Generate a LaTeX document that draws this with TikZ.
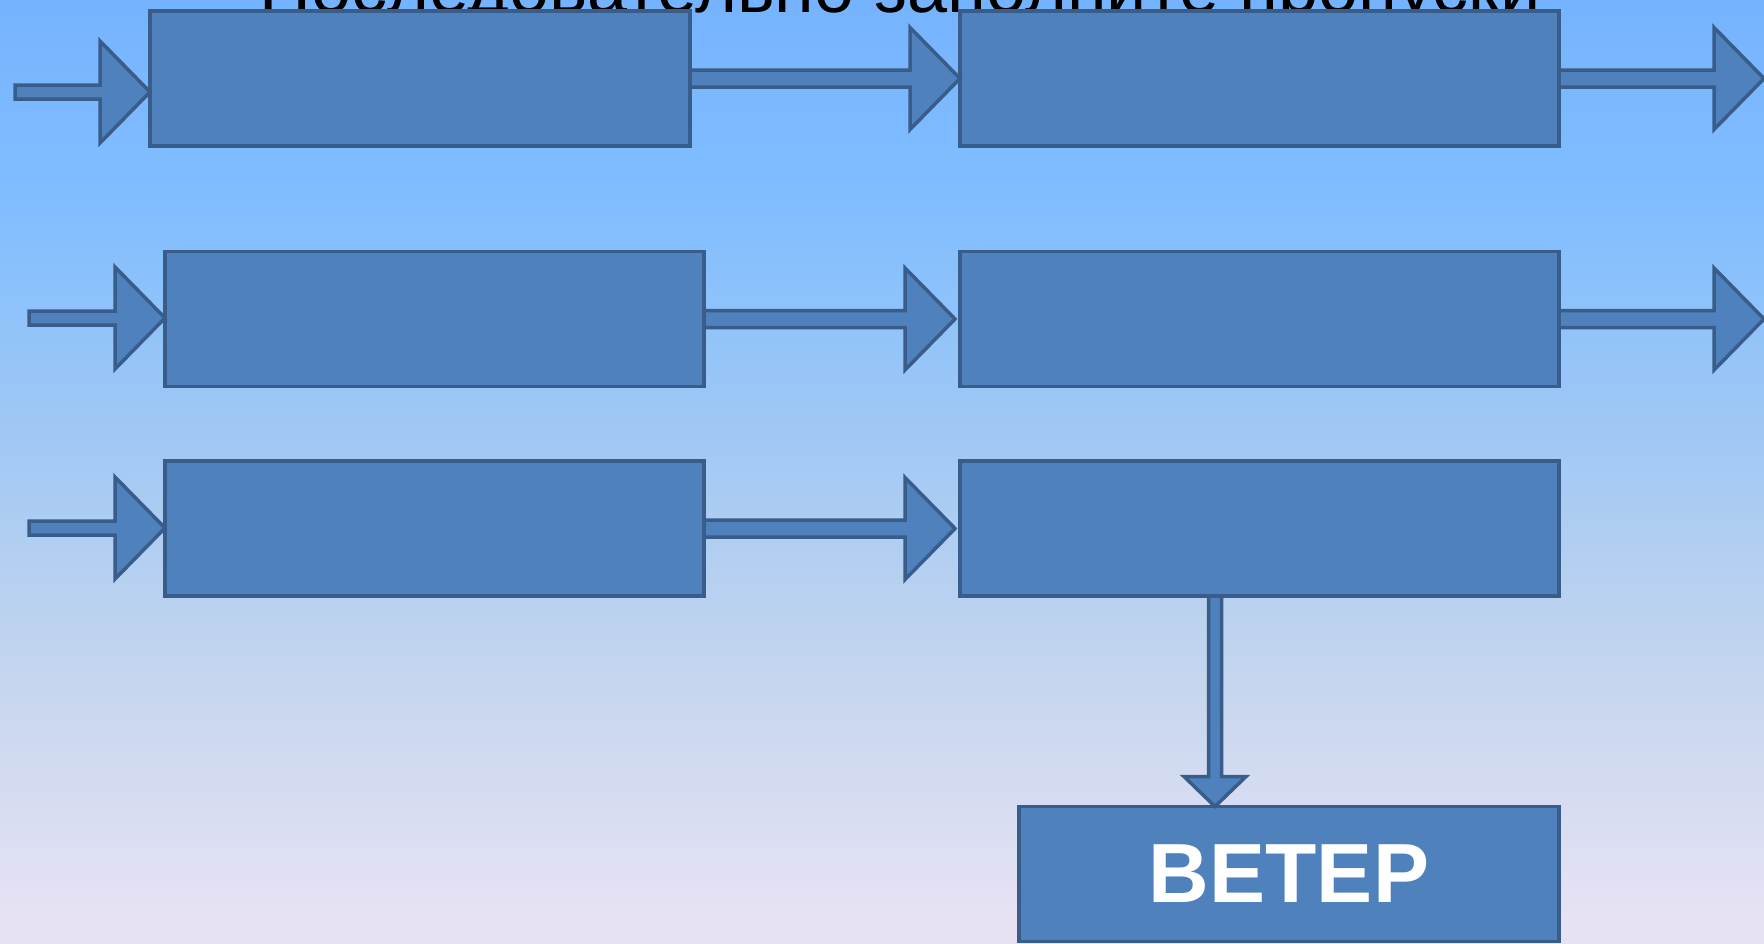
\documentclass[tikz,border=0pt]{standalone}
\usepackage{fontspec}
\setmainfont{Liberation Sans}
\usetikzlibrary{calc}
\definecolor{boxfill}{HTML}{4F81BD}
\definecolor{boxline}{HTML}{385D8A}
\definecolor{bga}{HTML}{E6E2F4}
\definecolor{bgb}{HTML}{C3D5EE}
\definecolor{bgc}{HTML}{A0C8F4}
\definecolor{bgd}{HTML}{80BDFF}
\definecolor{bge}{HTML}{76B3FE}
\pgfdeclareverticalshading{bgshade}{100bp}{color(0bp)=(bga); color(26.5bp)=(bga);
  color(39.75bp)=(bgb); color(52bp)=(bgc); color(64.5bp)=(bgd); color(75bp)=(bge); color(100bp)=(bge)}

% flat block arrow, left to right: start, tip, half shaft
\newcommand{\harrow}[3]{%
  \draw[arr] let \p1 = (#1), \p2 = (#2) in
    (\x1, \y1+#3) -- (\x2-50, \y1+#3) -- (\x2-50, \y1+51) -- (\x2, \y1)
    -- (\x2-50, \y1-51) -- (\x2-50, \y1-#3) -- (\x1, \y1-#3) -- cycle;}
% flat block arrow, top to bottom
\newcommand{\varrow}[3]{%
  \draw[arr] let \p1 = (#1), \p2 = (#2) in
    (\x1-#3, \y1) -- (\x1-#3, \y2+30) -- (\x1-31, \y2+30) -- (\x1, \y2)
    -- (\x1+31, \y2+30) -- (\x1+#3, \y2+30) -- (\x1+#3, \y1) -- cycle;}

\begin{document}
\begin{tikzpicture}[x=1pt, y=-1pt,
    box/.style = {draw=boxline, fill=boxfill, line width=3.5pt, inner sep=0pt, outer sep=0pt, minimum height=135pt},
    arr/.style = {draw=boxline, fill=boxfill, line width=3.5pt, line join=miter}]
        \shade[shading=bgshade] (0, 0) rectangle (1764, 943);
        \useasboundingbox (0, 0) rectangle (1764, 943);
        \node[anchor=base, font=\fontsize{72}{80}\selectfont] at (900, 12.5) (title) {Последовательно заполните пропуски};
        % boxes
        \node[box, minimum width=540pt] at (420, 78.5) (a1) {};
        \node[box, minimum width=599pt] at (1259.5, 78.5) (b1) {};
        \node[box, minimum width=539pt] at (434.5, 319) (a2) {};
        \node[box, minimum width=599pt] at (1259.5, 319) (b2) {};
        \node[box, minimum width=539pt] at (434.5, 528.5) (a3) {};
        \node[box, minimum width=599pt] at (1259.5, 528.5) (b3) {};
        \node[box, minimum width=540pt, text=white, font=\bfseries\fontsize{84}{90}\selectfont] at (1289, 874) (w) {ВЕТЕР};
        % free ends
        \coordinate (in1) at (15, 92);
        \coordinate (in2) at (29, 318);
        \coordinate (in3) at (29, 528);
        \coordinate (out1) at (1764, 78);
        \coordinate (out2) at (1764, 318);
        % arrows
        \harrow{in1}{a1.west}{7}
        \harrow{a1.east}{b1.west}{8.5}
        \harrow{b1.east}{out1}{8.5}
        \harrow{in2}{a2.west}{7}
        \harrow{a2.east}{[xshift=-5pt]b2.west}{8.5}
        \harrow{b2.east}{out2}{8.5}
        \harrow{in3}{a3.west}{7}
        \harrow{a3.east}{[xshift=-5pt]b3.west}{8.5}
        \varrow{[xshift=-44.5pt]b3.south}{w.north}{6.5}
\end{tikzpicture}
\end{document}
